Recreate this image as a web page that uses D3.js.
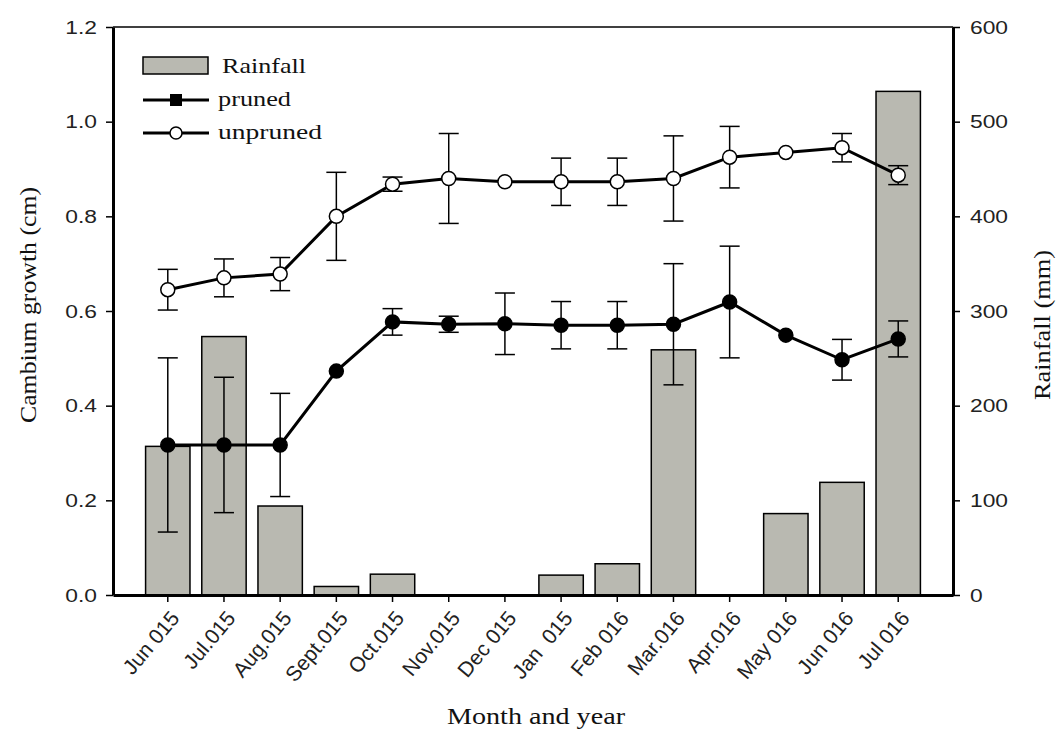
<!DOCTYPE html>
<html>
<head>
<meta charset="utf-8">
<script src="https://cdn.jsdelivr.net/npm/d3@7"></script>
<style>
  body { margin: 0; background: #fff; }
  svg { display: block; }
  .tick text { font-family: Arial, "Liberation Sans", sans-serif; font-size: 19px; fill: #222; white-space: pre; }
  .x-axis .tick text { font-size: 21px; }
  .title { font-family: "Times New Roman", "Liberation Serif", serif; font-size: 24px; fill: #111; }
  .legend text { font-family: "Times New Roman", "Liberation Serif", serif; font-size: 21px; fill: #111; }
</style>
</head>
<body>
<div id="chart"></div>
<script>
// month labels as printed on the x axis
const months = ["Jun 015", "Jul.015", "Aug.015", "Sept.015", "Oct.015", "Nov.015", "Dec 015",
  "Jan  015", "Feb 016", "Mar.016", "Apr.016", "May 016", "Jun 016", "Jul 016"];

// rainfall (mm), right axis
const rainfall = [157, 273, 94, 9, 22, 0, 0, 21, 33, 259, 0, 86, 119, 532];

// cambium growth (cm) and error bars
const pruned = [0.317, 0.317, 0.317, 0.473, 0.577, 0.572, 0.573, 0.570, 0.570, 0.572, 0.619, 0.549, 0.497, 0.541];
const prunedErr = [0.184, 0.143, 0.109, 0, 0.028, 0.017, 0.065, 0.05, 0.05, 0.128, 0.118, 0, 0.043, 0.038];
const unpruned = [0.645, 0.670, 0.678, 0.800, 0.868, 0.880, 0.873, 0.873, 0.873, 0.880, 0.925, 0.935, 0.945, 0.887];
const unprunedErr = [0.043, 0.04, 0.035, 0.093, 0.015, 0.095, 0, 0.05, 0.05, 0.09, 0.065, 0, 0.03, 0.02];

const leftTicks = [0, 0.2, 0.4, 0.6, 0.8, 1.0, 1.2];
const rightTicks = [0, 100, 200, 300, 400, 500, 600];

function drawChart(id) {
  const w = 1059;
  const h = 745;
  const x0 = 113, x1 = 953, yTop = 27, yBot = 595;
  const stretch = 1.2; // the source picture is a bit wider than tall in its glyphs

  const svg = d3.select(`#${id}`).append("svg")
    .attr("width", w).attr("height", h);

  const xScale = d3.scaleBand()
    .domain(months)
    .range([x0, x1])
    .paddingInner(0.21)
    .paddingOuter(0.58);
  const cx = (m) => xScale(m) + xScale.bandwidth() / 2;

  const yLeft = d3.scaleLinear().domain([0, 1.2]).range([yBot, yTop]);
  const yRight = d3.scaleLinear().domain([0, 600]).range([yBot, yTop]);

  // rainfall bars
  svg.append("g").selectAll("rect")
    .data(months.map((m, i) => ({ m, v: rainfall[i] })).filter((d) => d.v > 0))
    .enter().append("rect")
    .attr("x", (d) => xScale(d.m))
    .attr("y", (d) => yRight(d.v))
    .attr("width", xScale.bandwidth())
    .attr("height", (d) => yBot - yRight(d.v))
    .attr("fill", "#b9b9b1")
    .attr("stroke", "#000")
    .attr("stroke-width", 1.5);

  // series with error bars
  const series = [
    { vals: pruned, err: prunedErr, fill: "#000" },
    { vals: unpruned, err: unprunedErr, fill: "#fff" },
  ];
  series.forEach((s) => {
    const pts = months.map((m, i) => ({ m, v: s.vals[i], e: s.err[i] }));
    const g = svg.append("g");
    const eb = g.selectAll(".err").data(pts.filter((d) => d.e > 0)).enter().append("g");
    eb.append("line")
      .attr("x1", (d) => cx(d.m)).attr("x2", (d) => cx(d.m))
      .attr("y1", (d) => yLeft(d.v - d.e)).attr("y2", (d) => yLeft(d.v + d.e))
      .attr("stroke", "#000").attr("stroke-width", 1.5);
    [-1, 1].forEach((sgn) => {
      eb.append("line")
        .attr("x1", (d) => cx(d.m) - 10).attr("x2", (d) => cx(d.m) + 10)
        .attr("y1", (d) => yLeft(d.v + sgn * d.e)).attr("y2", (d) => yLeft(d.v + sgn * d.e))
        .attr("stroke", "#000").attr("stroke-width", 1.5);
    });
    g.append("path")
      .datum(pts)
      .attr("fill", "none").attr("stroke", "#000").attr("stroke-width", 3)
      .attr("d", d3.line().x((d) => cx(d.m)).y((d) => yLeft(d.v)));
    g.selectAll("circle").data(pts).enter().append("circle")
      .attr("cx", (d) => cx(d.m)).attr("cy", (d) => yLeft(d.v))
      .attr("r", 7)
      .attr("fill", s.fill).attr("stroke", "#000").attr("stroke-width", 1.5);
  });

  // top frame line
  svg.append("line")
    .attr("x1", x0).attr("x2", x1).attr("y1", yTop).attr("y2", yTop)
    .attr("stroke", "#000").attr("stroke-width", 1.5);

  // axes
  const styleAxis = (g) => {
    g.select(".domain").attr("stroke-width", 3);
    g.selectAll(".tick line").attr("stroke-width", 1.5);
  };
  svg.append("g")
    .attr("transform", `translate(${x0},0)`)
    .call(d3.axisLeft(yLeft).tickValues(leftTicks).tickFormat(d3.format(".1f")).tickSize(7).tickSizeOuter(0))
    .call(styleAxis)
    .selectAll(".tick text")
    .attr("x", -16 / stretch)
    .attr("transform", `scale(${stretch},1)`);
  svg.append("g")
    .attr("transform", `translate(${x1},0)`)
    .call(d3.axisRight(yRight).tickValues(rightTicks).tickSize(7).tickSizeOuter(0))
    .call(styleAxis)
    .selectAll(".tick text")
    .attr("x", 17 / stretch)
    .attr("transform", `scale(${stretch},1)`);
  svg.append("g")
    .attr("class", "x-axis")
    .attr("transform", `translate(0,${yBot})`)
    .call(d3.axisBottom(xScale).tickSize(7).tickSizeOuter(0))
    .call(styleAxis)
    .selectAll("text")
    .attr("x", 0).attr("y", 0).attr("dy", "0.35em")
    .attr("text-anchor", "end")
    .attr("transform", "translate(7,19)rotate(-50)");

  // axis titles
  svg.append("text").attr("class", "title")
    .attr("transform", `translate(36,305)rotate(-90)`)
    .attr("text-anchor", "middle")
    .attr("textLength", 236).attr("lengthAdjust", "spacingAndGlyphs")
    .text("Cambium growth (cm)");
  svg.append("text").attr("class", "title")
    .attr("transform", `translate(1050,325)rotate(-90)`)
    .attr("text-anchor", "middle")
    .attr("textLength", 150).attr("lengthAdjust", "spacingAndGlyphs")
    .text("Rainfall (mm)");
  svg.append("text").attr("class", "title")
    .attr("x", 536).attr("y", 724)
    .attr("text-anchor", "middle")
    .attr("textLength", 178).attr("lengthAdjust", "spacingAndGlyphs")
    .text("Month and year");

  // legend
  const lg = svg.append("g").attr("class", "legend").attr("transform", "translate(143,0)");
  lg.append("rect").attr("x", 0).attr("y", 57).attr("width", 65).attr("height", 17)
    .attr("fill", "#b9b9b1").attr("stroke", "#000").attr("stroke-width", 1.5);
  lg.append("text").attr("x", 79).attr("y", 73)
    .attr("textLength", 84).attr("lengthAdjust", "spacingAndGlyphs").text("Rainfall");
  [{ y: 100, fill: "#000", label: "pruned", len: 73 }, { y: 133, fill: "#fff", label: "unpruned", len: 104 }].forEach((d) => {
    lg.append("line").attr("x1", 0).attr("x2", 66).attr("y1", d.y).attr("y2", d.y)
      .attr("stroke", "#000").attr("stroke-width", 3);
    if (d.fill === "#000") {
      lg.append("rect").attr("x", 27).attr("y", d.y - 6).attr("width", 12).attr("height", 12).attr("fill", "#000");
    } else {
      lg.append("circle").attr("cx", 33).attr("cy", d.y).attr("r", 6)
        .attr("fill", "#fff").attr("stroke", "#000").attr("stroke-width", 1.5);
    }
    lg.append("text").attr("x", 75).attr("y", d.y + 6)
      .attr("textLength", d.len).attr("lengthAdjust", "spacingAndGlyphs").text(d.label);
  });
}

document.addEventListener("DOMContentLoaded", function () {
  drawChart("chart");
});
</script>
</body>
</html>
